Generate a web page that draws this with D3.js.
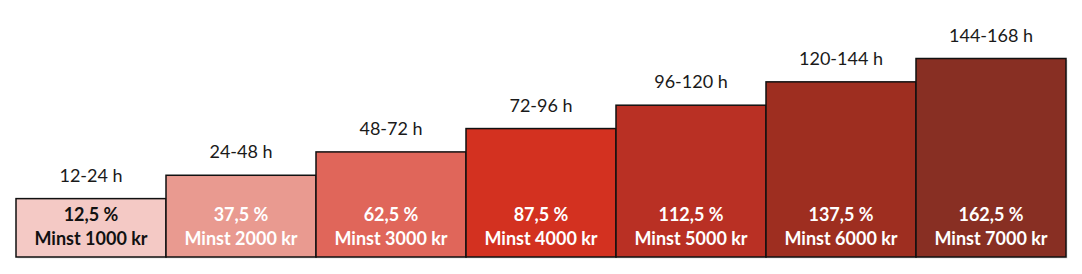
<!DOCTYPE html>
<html>
<head>
<meta charset="utf-8">
<style>
    body { margin: 0; background: white; }
    svg { display: block; }
    .top-label { font-family: Lato, 'Open Sans', sans-serif; font-size: 18px; fill: #1a1a1a; }
    .in-label { font-family: Lato, 'Open Sans', sans-serif; font-size: 18px; font-weight: bold; }
</style>
</head>
<body>
<svg id="chart" width="1082" height="274"></svg>
<script src="https://d3js.org/d3.v7.min.js"></script>
<script>
// data
const periods = ["12-24 h", "24-48 h", "48-72 h", "72-96 h", "96-120 h", "120-144 h", "144-168 h"];
const percents = ["12,5 %", "37,5 %", "62,5 %", "87,5 %", "112,5 %", "137,5 %", "162,5 %"];
const minimums = ["Minst 1000 kr", "Minst 2000 kr", "Minst 3000 kr", "Minst 4000 kr", "Minst 5000 kr", "Minst 6000 kr", "Minst 7000 kr"];
const levels = [2.5, 3.5, 4.5, 5.5, 6.5, 7.5, 8.5];

const colors = ["#f4c9c5", "#e99a90", "#e0665a", "#d33120", "#b93024", "#9e2e20", "#882f23"];
const textColors = ["#111", "#fff", "#fff", "#fff", "#fff", "#fff", "#fff"];

const data = periods.map((p, i) => ({ period: p, pct: percents[i], min: minimums[i], level: levels[i], i: i }));

let margin = { left: 16, right: 16, bottom: 17 };
let svg = d3.select("#chart");
let width = 1082, height = 274;

let x = d3.scaleBand()
    .domain(periods)
    .range([margin.left, width - margin.right])
    .padding(0);

let y = d3.scaleLinear()
    .domain([0, 8.5])
    .range([height - margin.bottom, 58.5]);

// faint shadow
svg.append("g")
    .selectAll("rect")
    .data(data)
    .join("rect")
    .attr("x", d => x(d.period) + 1.5)
    .attr("y", d => y(d.level) + 1.5)
    .attr("width", x.bandwidth())
    .attr("height", d => y(0) - y(d.level))
    .style("fill", "rgba(0,0,0,0.12)")

svg.append("g")
    .selectAll("rect")
    .data(data)
    .join("rect")
    .attr("x", d => x(d.period))
    .attr("y", d => y(d.level))
    .attr("width", x.bandwidth())
    .attr("height", d => y(0) - y(d.level))
    .style("fill", d => colors[d.i])
    .style("stroke", "#111")
    .style("stroke-width", 1.5)

svg.append("g")
    .selectAll("text")
    .data(data)
    .join("text")
    .attr("class", "top-label")
    .attr("x", d => x(d.period) + x.bandwidth() / 2)
    .attr("y", d => y(d.level) - 17)
    .attr("text-anchor", "middle")
    .text(d => d.period)

svg.append("g")
    .selectAll("text")
    .data(data)
    .join("text")
    .attr("class", "in-label")
    .attr("x", d => x(d.period) + x.bandwidth() / 2)
    .attr("y", y(0) - 36)
    .attr("text-anchor", "middle")
    .style("fill", d => textColors[d.i])
    .text(d => d.pct)

svg.append("g")
    .selectAll("text")
    .data(data)
    .join("text")
    .attr("class", "in-label")
    .attr("x", d => x(d.period) + x.bandwidth() / 2)
    .attr("y", y(0) - 12)
    .attr("text-anchor", "middle")
    .style("fill", d => textColors[d.i])
    .text(d => d.min)
</script>
</body>
</html>
